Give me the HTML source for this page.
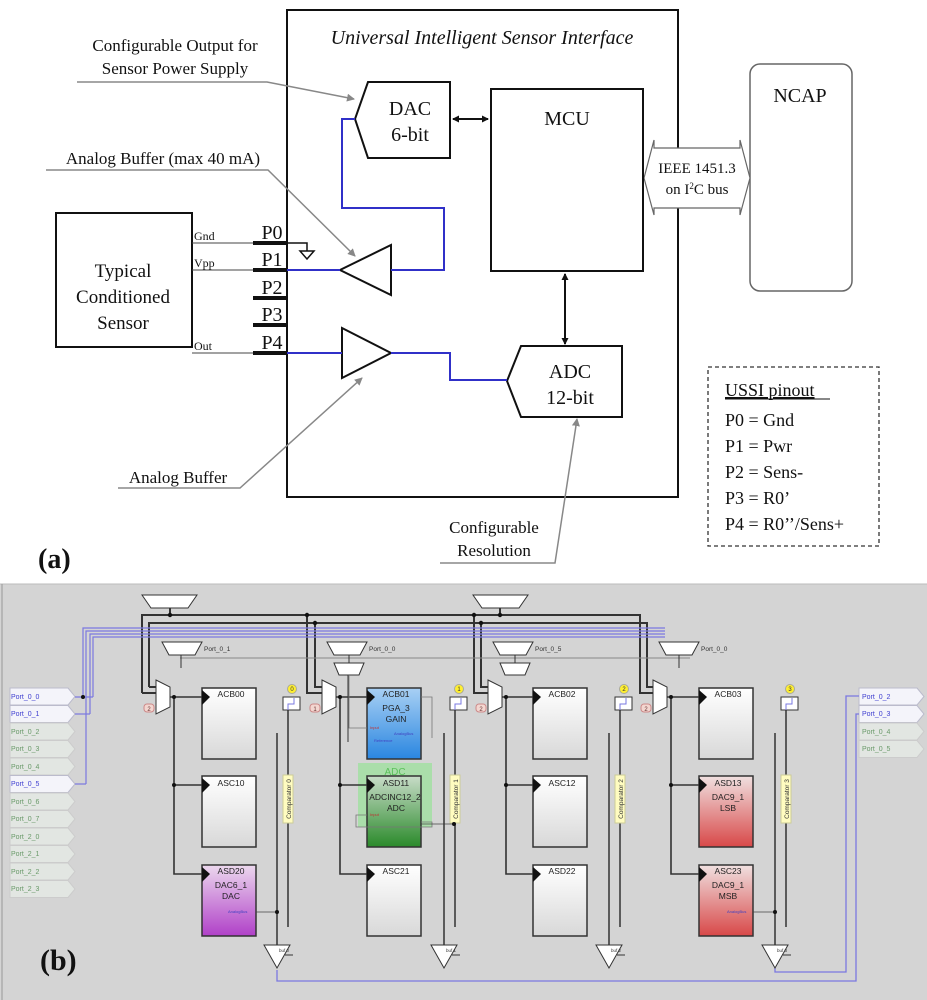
<!DOCTYPE html>
<html><head><meta charset="utf-8"><style>
html,body{margin:0;padding:0;background:#fff;}
svg{display:block;}
.t{font-family:"Liberation Serif",serif;fill:#111;}
.s{font-family:"Liberation Sans",sans-serif;}
</style></head><body>
<svg width="927" height="1000" viewBox="0 0 927 1000" xmlns="http://www.w3.org/2000/svg">
<defs>
<marker id="ga" markerWidth="8" markerHeight="8" refX="7" refY="4" orient="auto" markerUnits="userSpaceOnUse"><path d="M0,0 L8,4 L0,8 z" fill="#888"/></marker>
<marker id="ba" markerWidth="7" markerHeight="7" refX="6" refY="3.5" orient="auto" markerUnits="userSpaceOnUse"><path d="M0,0 L7,3.5 L0,7 z" fill="#111"/></marker>
<marker id="bs" markerWidth="7" markerHeight="7" refX="1" refY="3.5" orient="auto" markerUnits="userSpaceOnUse"><path d="M7,0 L0,3.5 L7,7 z" fill="#111"/></marker>
<linearGradient id="gw" x1="0" y1="0" x2="0" y2="1"><stop offset="0" stop-color="#ffffff"/><stop offset="1" stop-color="#d8d8d8"/></linearGradient>
<linearGradient id="gb" x1="0" y1="0" x2="0" y2="1"><stop offset="0" stop-color="#a8d0f4"/><stop offset="1" stop-color="#2a86e0"/></linearGradient>
<linearGradient id="gg" x1="0" y1="0" x2="0" y2="1"><stop offset="0" stop-color="#c8dcc8"/><stop offset="1" stop-color="#2a8a2a"/></linearGradient>
<linearGradient id="gp" x1="0" y1="0" x2="0" y2="1"><stop offset="0" stop-color="#ecd8ee"/><stop offset="1" stop-color="#b040c8"/></linearGradient>
<linearGradient id="gr" x1="0" y1="0" x2="0" y2="1"><stop offset="0" stop-color="#f0e0e0"/><stop offset="1" stop-color="#d84848"/></linearGradient>
</defs>

<!-- ===== PART (a) ===== -->
<rect x="287" y="10" width="391" height="487" fill="none" stroke="#111" stroke-width="2"/>
<text x="482" y="44" class="t" font-size="20" font-style="italic" text-anchor="middle">Universal Intelligent Sensor Interface</text>

<!-- NCAP -->
<rect x="750" y="64" width="102" height="227" rx="10" fill="#fff" stroke="#666" stroke-width="1.5"/>
<text x="800" y="102" class="t" font-size="20" text-anchor="middle">NCAP</text>

<!-- IEEE double arrow -->
<path d="M644,178 L654,140 L654,148 L740,148 L740,140 L750,178 L740,215 L740,208 L654,208 L654,215 Z" fill="#fff" stroke="#666" stroke-width="1.2"/>
<text x="697" y="173" class="t" font-size="15" text-anchor="middle">IEEE 1451.3</text>
<text x="697" y="194" class="t" font-size="15" text-anchor="middle">on I<tspan font-size="9" dy="-5">2</tspan><tspan dy="5">C bus</tspan></text>

<!-- DAC -->
<path d="M368,82 L450,82 L450,158 L368,158 L355,119 Z" fill="#fff" stroke="#111" stroke-width="2"/>
<text x="410" y="115" class="t" font-size="20" text-anchor="middle">DAC</text>
<text x="410" y="141" class="t" font-size="20" text-anchor="middle">6-bit</text>

<!-- MCU -->
<rect x="491" y="89" width="152" height="182" fill="#fff" stroke="#111" stroke-width="2"/>
<text x="567" y="125" class="t" font-size="20" text-anchor="middle">MCU</text>
<line x1="453" y1="119" x2="488" y2="119" stroke="#111" stroke-width="2" marker-start="url(#bs)" marker-end="url(#ba)"/>

<!-- ADC -->
<path d="M521,346 L622,346 L622,417 L521,417 L507,381 Z" fill="#fff" stroke="#111" stroke-width="2"/>
<text x="570" y="378" class="t" font-size="20" text-anchor="middle">ADC</text>
<text x="570" y="404" class="t" font-size="20" text-anchor="middle">12-bit</text>
<line x1="565" y1="274" x2="565" y2="344" stroke="#111" stroke-width="2" marker-start="url(#bs)" marker-end="url(#ba)"/>

<!-- sensor -->
<rect x="56" y="213" width="136" height="134" fill="#fff" stroke="#111" stroke-width="2"/>
<text x="123" y="277" class="t" font-size="19" text-anchor="middle">Typical</text>
<text x="123" y="303" class="t" font-size="19" text-anchor="middle">Conditioned</text>
<text x="123" y="329" class="t" font-size="19" text-anchor="middle">Sensor</text>
<line x1="192" y1="243" x2="253" y2="243" stroke="#444" stroke-width="1"/>
<line x1="192" y1="270" x2="253" y2="270" stroke="#444" stroke-width="1"/>
<line x1="192" y1="353" x2="253" y2="353" stroke="#444" stroke-width="1"/>
<text x="194" y="240" class="t" font-size="12">Gnd</text>
<text x="194" y="267" class="t" font-size="12">Vpp</text>
<text x="194" y="350" class="t" font-size="12">Out</text>
<!-- pins -->
<g stroke="#111" stroke-width="4">
<line x1="253" y1="243" x2="287" y2="243"/><line x1="253" y1="270" x2="287" y2="270"/>
<line x1="253" y1="298" x2="287" y2="298"/><line x1="253" y1="325" x2="287" y2="325"/>
<line x1="253" y1="353" x2="287" y2="353"/>
</g>
<g class="t" font-size="20" text-anchor="middle">
<text x="272" y="239">P0</text><text x="272" y="266">P1</text><text x="272" y="294">P2</text><text x="272" y="321">P3</text><text x="272" y="349">P4</text>
</g>
<!-- ground -->
<polyline points="287,243 307,243 307,251" fill="none" stroke="#111" stroke-width="1.5"/>
<path d="M300,251 L314,251 L307,259 Z" fill="#fff" stroke="#111" stroke-width="1.5"/>

<!-- buffers -->
<path d="M391,245 L391,295 L340,270 Z" fill="#fff" stroke="#111" stroke-width="2"/>
<path d="M342,328 L342,378 L391,353 Z" fill="#fff" stroke="#111" stroke-width="2"/>
<g fill="none" stroke="#3030c8" stroke-width="2">
<polyline points="287,270 340,270"/>
<polyline points="355,119 342,119 342,208 444,208 444,270 391,270"/>
<polyline points="287,353 342,353"/>
<polyline points="391,353 450,353 450,380 507,380"/>
</g>

<!-- annotation labels -->
<text x="175" y="51" class="t" font-size="17" text-anchor="middle">Configurable Output for</text>
<text x="175" y="74" class="t" font-size="17" text-anchor="middle">Sensor Power Supply</text>
<polyline points="77,82 267,82 354,99" fill="none" stroke="#888" stroke-width="1.5" marker-end="url(#ga)"/>
<text x="163" y="164" class="t" font-size="17" text-anchor="middle">Analog Buffer (max 40 mA)</text>
<polyline points="46,170 268,170 355,256" fill="none" stroke="#888" stroke-width="1.5" marker-end="url(#ga)"/>
<text x="178" y="483" class="t" font-size="17" text-anchor="middle">Analog Buffer</text>
<polyline points="118,488 240,488 362,378" fill="none" stroke="#888" stroke-width="1.5" marker-end="url(#ga)"/>
<text x="494" y="533" class="t" font-size="17" text-anchor="middle">Configurable</text>
<text x="494" y="556" class="t" font-size="17" text-anchor="middle">Resolution</text>
<polyline points="440,563 555,563 577,419" fill="none" stroke="#888" stroke-width="1.5" marker-end="url(#ga)"/>

<!-- USSI pinout -->
<rect x="708" y="367" width="171" height="179" fill="#fff" stroke="#333" stroke-width="1.3" stroke-dasharray="4,3"/>
<g class="t" font-size="18">
<text x="725" y="396" text-decoration="underline">USSI pinout</text>
<line x1="725" y1="399" x2="830" y2="399" stroke="#111" stroke-width="1"/>
<text x="725" y="426">P0 = Gnd</text>
<text x="725" y="452">P1 = Pwr</text>
<text x="725" y="478">P2 = Sens-</text>
<text x="725" y="504">P3 = R0’</text>
<text x="725" y="530">P4 = R0’’/Sens+</text>
</g>
<text x="38" y="568" class="t" font-size="28" font-weight="bold">(a)</text>

<!-- ===== PART (b) ===== -->
<rect x="0" y="584" width="927" height="416" fill="#d4d4d4"/>
<line x1="0" y1="584" x2="927" y2="584" stroke="#bbb"/>
<line x1="2" y1="584" x2="2" y2="1000" stroke="#999"/>

<!-- top muxes -->
<path d="M142,595 L197,595 L188,608 L151,608 Z" fill="#fff" stroke="#333"/>
<path d="M473,595 L528,595 L519,608 L482,608 Z" fill="#fff" stroke="#333"/>
<!-- black buses -->
<g fill="none" stroke="#333" stroke-width="2">
<polyline points="142,693 142,615 640,615 640,693 653,693"/>
<polyline points="149,687 149,623 647,623 647,687 653,687"/>
<line x1="142" y1="693" x2="156" y2="693"/><line x1="149" y1="687" x2="156" y2="687"/>
<polyline points="307,615 307,693 322,693"/><polyline points="315,623 315,687 322,687"/>
<polyline points="474,615 474,693 488,693"/><polyline points="481,623 481,687 488,687"/>
<line x1="170" y1="608" x2="170" y2="615"/><line x1="500" y1="608" x2="500" y2="615"/>
</g>
<g fill="#111"><circle cx="170" cy="615" r="2.2"/><circle cx="307" cy="615" r="2.2"/><circle cx="315" cy="623" r="2.2"/><circle cx="500" cy="615" r="2.2"/><circle cx="474" cy="615" r="2.2"/><circle cx="481" cy="623" r="2.2"/></g>
<!-- blue lines -->
<g fill="none" stroke="#7a78e0" stroke-width="1.2">
<polyline points="83,697 83,628 665,628"/>
<polyline points="86,784 86,631 665,631"/>
<polyline points="90,714 90,634 665,634"/>
<polyline points="93,697 93,637 665,637"/>
</g>
<!-- gray line -->
<line x1="180" y1="658" x2="690" y2="658" stroke="#888" stroke-width="1"/>
<!-- small port muxes -->
<g fill="#fff" stroke="#333">
<path d="M162,642 L202,642 L195,655 L169,655 Z"/>
<path d="M327,642 L367,642 L360,655 L334,655 Z"/>
<path d="M334,663 L364,663 L359,675 L339,675 Z"/>
<path d="M493,642 L533,642 L526,655 L500,655 Z"/>
<path d="M500,663 L530,663 L525,675 L505,675 Z"/>
<path d="M659,642 L699,642 L692,655 L666,655 Z"/>
</g>
<g stroke="#333" fill="none"><line x1="181" y1="655" x2="181" y2="668"/><line x1="349" y1="655" x2="349" y2="663"/><line x1="515" y1="655" x2="515" y2="663"/><line x1="679" y1="655" x2="679" y2="668"/><line x1="348" y1="675" x2="348" y2="742"/></g>
<g class="s" font-size="6.5" fill="#333">
<text x="204" y="651">Port_0_1</text><text x="369" y="651">Port_0_0</text><text x="535" y="651">Port_0_5</text><text x="701" y="651">Port_0_0</text>
</g>

<!-- left port list -->
<g class="s" font-size="7">
<path d="M10,688 L68,688 L75,696.5 L68,705 L10,705 Z" fill="#f4f4fa" stroke="#bbc"/><text x="11" y="699" fill="#4040d0">Port_0_0</text>
<path d="M10,705.5 L68,705.5 L75,714 L68,722.5 L10,722.5 Z" fill="#f4f4fa" stroke="#bbc"/><text x="11" y="716" fill="#4040d0">Port_0_1</text>
<path d="M10,723 L68,723 L75,731.5 L68,740 L10,740 Z" fill="#e2e6e2" stroke="#ccc"/><text x="11" y="734" fill="#6a9a6a">Port_0_2</text>
<path d="M10,740.5 L68,740.5 L75,749 L68,757.5 L10,757.5 Z" fill="#e2e6e2" stroke="#ccc"/><text x="11" y="751" fill="#6a9a6a">Port_0_3</text>
<path d="M10,758 L68,758 L75,766.5 L68,775 L10,775 Z" fill="#e2e6e2" stroke="#ccc"/><text x="11" y="769" fill="#6a9a6a">Port_0_4</text>
<path d="M10,775.5 L68,775.5 L75,784 L68,792.5 L10,792.5 Z" fill="#f4f4fa" stroke="#bbc"/><text x="11" y="786" fill="#4040d0">Port_0_5</text>
<path d="M10,793 L68,793 L75,801.5 L68,810 L10,810 Z" fill="#e2e6e2" stroke="#ccc"/><text x="11" y="804" fill="#6a9a6a">Port_0_6</text>
<path d="M10,810.5 L68,810.5 L75,819 L68,827.5 L10,827.5 Z" fill="#e2e6e2" stroke="#ccc"/><text x="11" y="821" fill="#6a9a6a">Port_0_7</text>
<path d="M10,828 L68,828 L75,836.5 L68,845 L10,845 Z" fill="#e2e6e2" stroke="#ccc"/><text x="11" y="839" fill="#6a9a6a">Port_2_0</text>
<path d="M10,845.5 L68,845.5 L75,854 L68,862.5 L10,862.5 Z" fill="#e2e6e2" stroke="#ccc"/><text x="11" y="856" fill="#6a9a6a">Port_2_1</text>
<path d="M10,863 L68,863 L75,871.5 L68,880 L10,880 Z" fill="#e2e6e2" stroke="#ccc"/><text x="11" y="874" fill="#6a9a6a">Port_2_2</text>
<path d="M10,880.5 L68,880.5 L75,889 L68,897.5 L10,897.5 Z" fill="#e2e6e2" stroke="#ccc"/><text x="11" y="891" fill="#6a9a6a">Port_2_3</text>
</g>
<g stroke="#7a78e0" stroke-width="1.2" fill="none"><line x1="75" y1="697" x2="93" y2="697"/><line x1="75" y1="714" x2="90" y2="714"/><line x1="75" y1="784" x2="86" y2="784"/></g>
<circle cx="83" cy="697" r="2" fill="#111"/>

<!-- right port list -->
<g class="s" font-size="7">
<path d="M859,688 L917,688 L924,696.5 L917,705 L859,705 Z" fill="#f4f4fa" stroke="#bbc"/><text x="862" y="699" fill="#4040d0">Port_0_2</text>
<path d="M859,705.5 L917,705.5 L924,714 L917,722.5 L859,722.5 Z" fill="#f4f4fa" stroke="#bbc"/><text x="862" y="716" fill="#4040d0">Port_0_3</text>
<path d="M859,723 L917,723 L924,731.5 L917,740 L859,740 Z" fill="#e2e6e2" stroke="#ccc"/><text x="862" y="734" fill="#6a9a6a">Port_0_4</text>
<path d="M859,740.5 L917,740.5 L924,749 L917,757.5 L859,757.5 Z" fill="#e2e6e2" stroke="#ccc"/><text x="862" y="751" fill="#6a9a6a">Port_0_5</text>
</g>
<g fill="none" stroke="#7a78e0" stroke-width="1.3">
<polyline points="277,970 277,981 856,981 856,714 859,714"/>
<polyline points="775,968 775,972 846,972 846,696 859,696"/>
</g>

<!-- ADC glow -->
<rect x="358" y="763" width="74" height="64" fill="#9fe09f" opacity="0.8"/>
<text x="395" y="775" class="s" font-size="10" fill="#5cc05c" text-anchor="middle">ADC</text>

<!-- columns -->
<g id="col0">
<path d="M156,680 L170,687 L170,707 L156,714 Z" fill="#fff" stroke="#333"/>
<g fill="none" stroke="#333" stroke-width="1.6">
<line x1="170" y1="697" x2="202" y2="697"/>
<polyline points="174,697 174,874 202,874"/>
<line x1="174" y1="785" x2="202" y2="785"/>
</g>
<circle cx="174" cy="697" r="2" fill="#111"/><circle cx="174" cy="785" r="2" fill="#111"/>
<rect x="144" y="704" width="10" height="8" rx="3" fill="#f3d6d0" stroke="#c88"/>
</g>
<use href="#col0" x="166"/>
<use href="#col0" x="332"/>
<use href="#col0" x="497"/>
<g class="s" font-size="6" fill="#633" text-anchor="middle"><text x="149" y="711">2</text><text x="315" y="711">1</text><text x="481" y="711">2</text><text x="646" y="711">2</text></g>

<!-- blocks -->
<g stroke="#333" stroke-width="1.5">
<rect x="202" y="688" width="54" height="71" fill="url(#gw)"/>
<rect x="202" y="776" width="54" height="71" fill="url(#gw)"/>
<rect x="202" y="865" width="54" height="71" fill="url(#gp)"/>
<rect x="367" y="688" width="54" height="71" fill="url(#gb)"/>
<rect x="367" y="776" width="54" height="71" fill="url(#gg)"/>
<rect x="367" y="865" width="54" height="71" fill="url(#gw)"/>
<rect x="533" y="688" width="54" height="71" fill="url(#gw)"/>
<rect x="533" y="776" width="54" height="71" fill="url(#gw)"/>
<rect x="533" y="865" width="54" height="71" fill="url(#gw)"/>
<rect x="699" y="688" width="54" height="71" fill="url(#gw)"/>
<rect x="699" y="776" width="54" height="71" fill="url(#gr)"/>
<rect x="699" y="865" width="54" height="71" fill="url(#gr)"/>
</g>
<g fill="#111">
<path d="M202,690 L210,697 L202,705 Z"/><path d="M202,778 L210,785 L202,793 Z"/><path d="M202,867 L210,874 L202,882 Z"/>
<path d="M367,690 L375,697 L367,705 Z"/><path d="M367,778 L375,785 L367,793 Z"/><path d="M367,867 L375,874 L367,882 Z"/>
<path d="M533,690 L541,697 L533,705 Z"/><path d="M533,778 L541,785 L533,793 Z"/><path d="M533,867 L541,874 L533,882 Z"/>
<path d="M699,690 L707,697 L699,705 Z"/><path d="M699,778 L707,785 L699,793 Z"/><path d="M699,867 L707,874 L699,882 Z"/>
</g>
<g class="s" font-size="8.5" fill="#222" text-anchor="middle">
<text x="231" y="697">ACB00</text><text x="231" y="786">ASC10</text><text x="231" y="874">ASD20</text>
<text x="231" y="888">DAC6_1</text><text x="231" y="899">DAC</text>
<text x="396" y="697">ACB01</text><text x="396" y="711">PGA_3</text><text x="396" y="722">GAIN</text>
<text x="396" y="786">ASD11</text><text x="395" y="800">ADCINC12_2</text><text x="396" y="811">ADC</text>
<text x="396" y="874">ASC21</text>
<text x="562" y="697">ACB02</text><text x="562" y="786">ASC12</text><text x="562" y="874">ASD22</text>
<text x="728" y="697">ACB03</text><text x="728" y="786">ASD13</text><text x="728" y="800">DAC9_1</text><text x="728" y="811">LSB</text>
<text x="728" y="874">ASC23</text><text x="728" y="888">DAC9_1</text><text x="728" y="899">MSB</text>
</g>
<g class="s" font-size="4" fill="#c03030"><text x="370" y="729">Input</text><text x="370" y="816">Input</text></g>
<g class="s" font-size="4" fill="#4040c0"><text x="394" y="735">AnalogBus</text><text x="374" y="742">Reference</text><text x="228" y="913">AnalogBus</text><text x="727" y="913">AnalogBus</text></g>
<g fill="none" stroke="#777" stroke-width="0.8">
<polyline points="349,675 349,728 367,728"/><polyline points="421,697 432,697 432,738"/><polyline points="421,822 432,822 432,827 356,827 356,815 367,815"/>
</g>
<line x1="421" y1="824" x2="454" y2="824" stroke="#444" stroke-width="0.8"/>
<line x1="256" y1="912" x2="278" y2="912" stroke="#444" stroke-width="0.8"/>
<line x1="753" y1="912" x2="775" y2="912" stroke="#444" stroke-width="0.8"/>

<!-- comparators -->
<g id="comp">
<rect x="283" y="697" width="17" height="13" fill="#fff" stroke="#333"/>
<polyline points="288,710 288,704 294,704 294,698" fill="none" stroke="#7a78e0"/>
<circle cx="292" cy="689" r="4.5" fill="#ffef30" stroke="#aa9"/>
<line x1="288" y1="710" x2="288" y2="927" stroke="#333" stroke-width="1.5"/>
<line x1="277" y1="733" x2="277" y2="948" stroke="#333" stroke-width="1.5"/>
<rect x="283" y="775" width="10" height="48" fill="#fffcc0" stroke="#cc9"/>
<path d="M264,945 L290,945 L277,968 Z" fill="#fff" stroke="#333"/>
<line x1="285" y1="955" x2="293" y2="955" stroke="#333"/>
</g>
<use href="#comp" x="167"/>
<use href="#comp" x="332"/>
<use href="#comp" x="498"/>
<g class="s" font-size="6" fill="#333" text-anchor="middle"><text x="292" y="691">0</text><text x="459" y="691">1</text><text x="624" y="691">2</text><text x="790" y="691">3</text></g>
<g class="s" font-size="6.5" fill="#333" text-anchor="middle">
<text transform="translate(291,799) rotate(-90)">Comparator 0</text>
<text transform="translate(458,799) rotate(-90)">Comparator 1</text>
<text transform="translate(623,799) rotate(-90)">Comparator 2</text>
<text transform="translate(789,799) rotate(-90)">Comparator 3</text>
</g>
<g class="s" font-size="4.5" fill="#333"><text x="279" y="952">buf 0</text><text x="446" y="952">buf 1</text><text x="611" y="952">buf 2</text><text x="777" y="952">buf 3</text></g>
<circle cx="277" cy="912" r="2" fill="#111"/><circle cx="775" cy="912" r="2" fill="#111"/><circle cx="454" cy="824" r="2" fill="#111"/>

<text x="40" y="970" class="t" font-size="30" font-weight="bold">(b)</text>
</svg>
</body></html>
